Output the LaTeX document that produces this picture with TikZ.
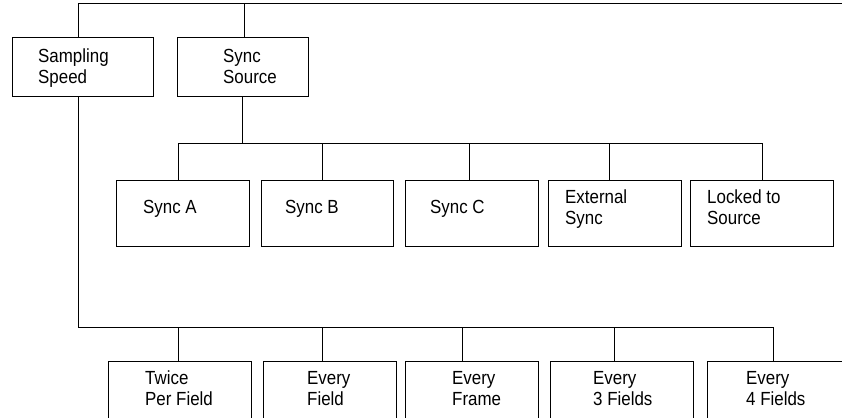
\documentclass[tikz,border=0pt]{standalone}
\usepackage{fontspec}
\setmainfont{Liberation Sans}[FakeStretch=0.89]
\begin{document}
\begin{tikzpicture}[x=1pt,y=-1pt,
  box/.style={draw,line width=1pt,rectangle,anchor=north west,inner sep=0pt},
  lbl/.style={anchor=base west,align=left,inner sep=0pt,font=\fontsize{19}{21}\selectfont},
  conn/.style={line width=1pt}]
\useasboundingbox (0,0) rectangle (842,417);
\clip (0,0) rectangle (842,417);
% top-level boxes
\node[box,minimum width=141pt,minimum height=59pt] (samp) at (12,37) {};
\node[box,minimum width=131pt,minimum height=59pt] (src) at (177,37) {};
\node[lbl] (tsamp) at (38,84) {Sampling\\Speed};
\node[lbl] (tsrc) at (223,84) {Sync\\Source};
% sync boxes
\node[box,minimum width=133pt,minimum height=66pt] (sa) at (116,180) {};
\node[box,minimum width=132pt,minimum height=66pt] (sb) at (261,180) {};
\node[box,minimum width=133pt,minimum height=66pt] (sc) at (405,180) {};
\node[box,minimum width=133pt,minimum height=66pt] (ext) at (548,180) {};
\node[box,minimum width=143pt,minimum height=66pt] (lock) at (690,180) {};
\node[lbl] (tsa) at (143,213.5) {Sync A};
\node[lbl] (tsb) at (285,213.5) {Sync B};
\node[lbl] (tsc) at (430,213.5) {Sync C};
\node[lbl] (text) at (565,224) {External\\Sync};
\node[lbl] (tlock) at (707,224) {Locked to\\Source};
% speed boxes
\node[box,minimum width=143pt,minimum height=80pt] (tw) at (108,361) {};
\node[box,minimum width=133pt,minimum height=80pt] (ef) at (263,361) {};
\node[box,minimum width=133pt,minimum height=80pt] (efr) at (405,361) {};
\node[box,minimum width=143pt,minimum height=80pt] (e3) at (550,361) {};
\node[box,minimum width=150pt,minimum height=80pt] (e4) at (707,361) {};
\node[lbl] (ttw) at (145,405) {Twice\\Per Field};
\node[lbl] (tef) at (307,405) {Every\\Field};
\node[lbl] (tefr) at (452,405) {Every\\Frame};
\node[lbl] (te3) at (593,405) {Every\\3 Fields};
\node[lbl] (te4) at (746,405) {Every\\4 Fields};
% top bus
\coordinate (topL) at (78,4);
\coordinate (topR) at (850,4);
\coordinate (topS) at (244,4);
\draw[conn] (samp.north -| topL) -- (topL) -- (topR);
\draw[conn] (topS) -- (src.north -| topS);
% sync bus
\coordinate (sbusL) at (178,143);
\coordinate (sbusR) at (762,143);
\coordinate (sbusS) at (242,143);
\draw[conn] (src.south -| sbusS) -- (sbusS);
\draw[conn] (sa.north -| sbusL) -- (sbusL) -- (sbusR) -- (lock.north -| sbusR);
\foreach \n/\x in {sb/322, sc/469, ext/609}
  \draw[conn] (\n.north -| \x,0) -- (\x,143);
% speed bus
\coordinate (pbusL) at (78,327);
\coordinate (pbusR) at (773,327);
\draw[conn] (samp.south -| pbusL) -- (pbusL) -- (pbusR) -- (e4.north -| pbusR);
\foreach \n/\x in {tw/178, ef/322, efr/462, e3/614}
  \draw[conn] (\n.north -| \x,0) -- (\x,327);
\end{tikzpicture}
\end{document}
